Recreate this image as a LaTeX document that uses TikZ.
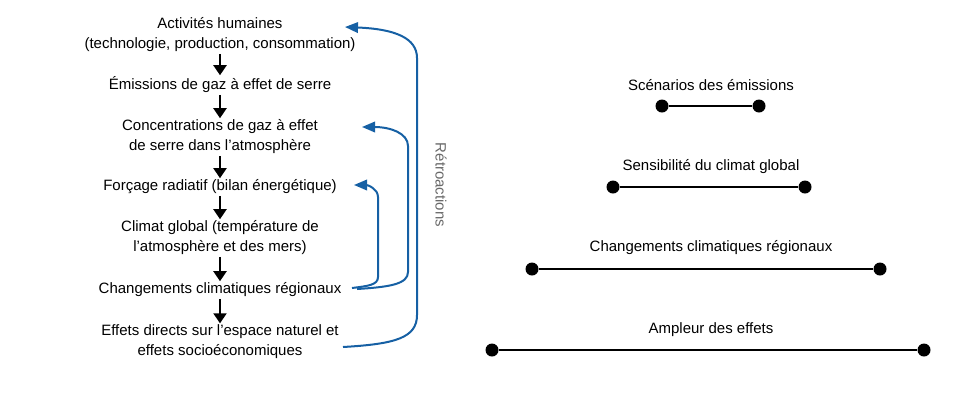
\documentclass[tikz,border=0pt]{standalone}
\usepackage{fontspec}
\setmainfont{Liberation Sans}
\usetikzlibrary{arrows.meta}
\definecolor{fbblue}{RGB}{22,96,164}
\definecolor{txtgray}{RGB}{105,105,105}
\begin{document}
\begin{tikzpicture}[x=1pt,y=-1pt,
  lbl/.style={font=\fontsize{15}{20}\selectfont, align=center, inner xsep=0pt, inner ysep=1.5pt},
  darr/.style={line width=2pt, -{Triangle[length=10pt,width=13pt]}},
  fb/.style={draw=fbblue, line width=2pt, -{Triangle[length=13pt,width=10.5pt]}, fbblue},
  dot/.style={circle, fill=black, inner sep=0pt, minimum size=13pt},
  seg/.style={line width=2pt}]
\path[use as bounding box] (0,0) rectangle (980,392);
% left column
\node[lbl] (act) at (220,35) {Activités humaines\\(technologie, production, consommation)};
\node[lbl] (emi) at (220,85) {Émissions de gaz à effet de serre};
\node[lbl] (conc) at (220,137) {Concentrations de gaz à effet\\de serre dans l’atmosphère};
\node[lbl] (forc) at (220,187) {Forçage radiatif (bilan énergétique)};
\node[lbl] (clim) at (220,238) {Climat global (température de\\l’atmosphère et des mers)};
\node[lbl] (chg) at (220,290) {Changements climatiques régionaux};
\node[lbl] (eff) at (220,342) {Effets directs sur l’espace naturel et\\effets socioéconomiques};
\draw[darr] (act) -- (emi);
\draw[darr] (emi) -- (conc);
\draw[darr] (conc) -- (forc);
\draw[darr] (forc) -- (clim);
\draw[darr] (clim) -- (chg);
\draw[darr] (chg) -- (eff);
% feedback arrows
\coordinate (s1) at (343,347);
\coordinate (t1) at (345,27);
\coordinate (s2) at (357,289);
\coordinate (t2) at (362,127);
\coordinate (s3) at (352,288);
\coordinate (t3) at (354,185);
\draw[fb] (s1) .. controls (395,344) and (417,338) .. (417,315) -- (417,58) .. controls (417,38) and (395,29) .. (t1);
\draw[fb] (s2) .. controls (390,287) and (408,284) .. (408,272) -- (408,146) .. controls (408,133) and (390,127) .. (t2);
\draw[fb] (s3) .. controls (368,286) and (378,285) .. (378,277) -- (378,197) .. controls (378,189) and (368,185) .. (t3);
\node[font=\fontsize{15}{20}\selectfont, text=txtgray, rotate=-90] (retro) at (441,185) {Rétroactions};
% right side
\node[lbl] (h1) at (711,85) {Scénarios des émissions};
\node[dot] (a1) at (662,106) {};
\node[dot] (b1) at (759,106) {};
\draw[seg] (a1) -- (b1);
\node[lbl] (h2) at (711,167) {Sensibilité du climat global};
\node[dot] (a2) at (613,187) {};
\node[dot] (b2) at (805,187) {};
\draw[seg] (a2) -- (b2);
\node[lbl] (h3) at (711,248) {Changements climatiques régionaux};
\node[dot] (a3) at (532,269) {};
\node[dot] (b3) at (880,269) {};
\draw[seg] (a3) -- (b3);
\node[lbl] (h4) at (711,330) {Ampleur des effets};
\node[dot] (a4) at (492,350) {};
\node[dot] (b4) at (924,350) {};
\draw[seg] (a4) -- (b4);
\end{tikzpicture}
\end{document}
